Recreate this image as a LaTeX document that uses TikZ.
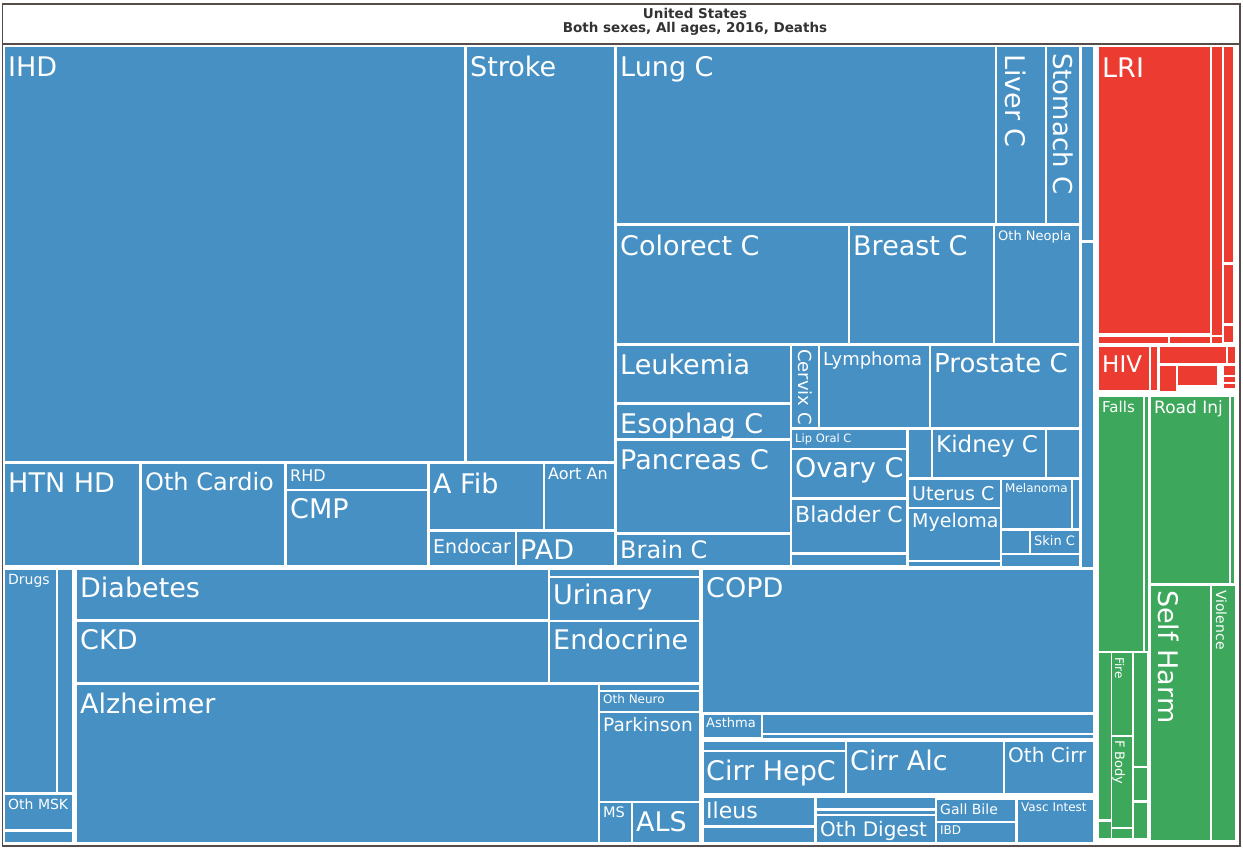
\documentclass[tikz,border=0pt]{standalone}
\usepackage{fontspec}
\setmainfont{DejaVu Sans}
\definecolor{ncdblue}{RGB}{70,144,196}
\definecolor{comred}{RGB}{236,60,50}
\definecolor{injgreen}{RGB}{61,168,92}
\definecolor{framegray}{RGB}{85,75,72}
\definecolor{titlegray}{RGB}{51,51,51}

\begin{document}
\begin{tikzpicture}[
    x = 1pt,
    y = -1pt,
    ncd/.style = {fill = ncdblue},
    com/.style = {fill = comred},
    inj/.style = {fill = injgreen},
    frame/.style = {draw = framegray, line width = 1.5pt},
    lbl/.style = {anchor = base west, inner sep = 0pt, text = white},
    vlbl/.style = {lbl, rotate = -90},
    fs/.style = {font = \fontsize{#1}{#1}\selectfont},
    heading/.style = {inner sep = 0pt, text = titlegray, font = \bfseries\fontsize{13.5}{13.5}\selectfont}
  ]
    \fill[white] (0,0) rectangle (1243,849);
    \useasboundingbox (0,0) rectangle (1243,849);

    \node[heading] (title_country) at (695,13) {United States};
    \node[heading] (title_measure) at (695,29) {Both sexes, All ages, 2016, Deaths};

    % cardiovascular
    \fill[ncd] (5,47) rectangle (464,461);
    \fill[ncd] (467,47) rectangle (614,461);
    \fill[ncd] (5,464) rectangle (139,565);
    \fill[ncd] (142,464) rectangle (284,565);
    \fill[ncd] (287,464) rectangle (427,489);
    \fill[ncd] (287,491) rectangle (427,565);
    \fill[ncd] (430,464) rectangle (543,529);
    \fill[ncd] (545,464) rectangle (614,529);
    \fill[ncd] (430,532) rectangle (515,565);
    \fill[ncd] (517,532) rectangle (614,565);
    \node[lbl, fs=27] (ihd) at (8,76) {IHD};
    \node[lbl, fs=27] (stroke) at (470,76) {Stroke};
    \node[lbl, fs=27] (htn_hd) at (8,492) {HTN HD};
    \node[lbl, fs=24] (oth_cardio) at (145,490) {Oth Cardio};
    \node[lbl, fs=16] (rhd) at (290,481) {RHD};
    \node[lbl, fs=27] (cmp) at (290,518) {CMP};
    \node[lbl, fs=27] (a_fib) at (433,493) {A Fib};
    \node[lbl, fs=16] (aort_an) at (548,479) {Aort An};
    \node[lbl, fs=19] (endocar) at (433,553) {Endocar};
    \node[lbl, fs=27] (pad) at (520,559) {PAD};

    % neoplasms
    \fill[ncd] (617,47) rectangle (995,223);
    \fill[ncd] (997,47) rectangle (1045,223);
    \fill[ncd] (1047,47) rectangle (1079,223);
    \fill[ncd] (617,226) rectangle (848,343);
    \fill[ncd] (850,226) rectangle (993,343);
    \fill[ncd] (995,226) rectangle (1079,343);
    \fill[ncd] (617,346) rectangle (790,402);
    \fill[ncd] (617,405) rectangle (790,438);
    \fill[ncd] (617,441) rectangle (790,532);
    \fill[ncd] (617,535) rectangle (790,565);
    \fill[ncd] (792,346) rectangle (818,427);
    \fill[ncd] (820,346) rectangle (929,427);
    \fill[ncd] (931,346) rectangle (1079,427);
    \fill[ncd] (792,430) rectangle (906,448);
    \fill[ncd] (792,450) rectangle (906,497);
    \fill[ncd] (792,500) rectangle (906,552);
    \fill[ncd] (792,555) rectangle (906,565);
    \fill[ncd] (909,430) rectangle (931,477);
    \fill[ncd] (933,430) rectangle (1045,477);
    \fill[ncd] (1047,430) rectangle (1079,477);
    \fill[ncd] (909,480) rectangle (1000,507);
    \fill[ncd] (909,509) rectangle (1000,560);
    \fill[ncd] (909,562) rectangle (1000,566);
    \fill[ncd] (1002,480) rectangle (1071,528);
    \fill[ncd] (1073,480) rectangle (1079,528);
    \fill[ncd] (1002,531) rectangle (1029,553);
    \fill[ncd] (1031,531) rectangle (1079,553);
    \fill[ncd] (1002,555) rectangle (1079,566);
    \fill[ncd] (1082,47) rectangle (1093,240);
    \fill[ncd] (1082,243) rectangle (1093,567);
    \node[lbl, fs=27] (lung_c) at (620,76) {Lung C};
    \node[vlbl, fs=27] (liver_c) at (1005,54) {Liver C};
    \node[vlbl, fs=26] (stomach_c) at (1053,53) {Stomach C};
    \node[lbl, fs=27] (colorect_c) at (620,255) {Colorect C};
    \node[lbl, fs=27] (breast_c) at (853,255) {Breast C};
    \node[lbl, fs=13] (oth_neopla) at (998,240) {Oth Neopla};
    \node[lbl, fs=27] (leukemia) at (620,374) {Leukemia};
    \node[lbl, fs=27] (esophag_c) at (620,433) {Esophag C};
    \node[lbl, fs=27] (pancreas_c) at (620,469) {Pancreas C};
    \node[lbl, fs=24] (brain_c) at (620,558) {Brain C};
    \node[vlbl, fs=18] (cervix_c) at (798,349) {Cervix C};
    \node[lbl, fs=18] (lymphoma) at (823,365) {Lymphoma};
    \node[lbl, fs=26] (prostate_c) at (934,372) {Prostate C};
    \node[lbl, fs=11.5] (lip_oral_c) at (795,442) {Lip Oral C};
    \node[lbl, fs=27] (ovary_c) at (795,477) {Ovary C};
    \node[lbl, fs=22] (bladder_c) at (795,522) {Bladder C};
    \node[lbl, fs=23] (kidney_c) at (936,452) {Kidney C};
    \node[lbl, fs=19] (uterus_c) at (912,500) {Uterus C};
    \node[lbl, fs=19] (myeloma) at (912,527) {Myeloma};
    \node[lbl, fs=12] (melanoma) at (1005,492) {Melanoma};
    \node[lbl, fs=13] (skin_c) at (1034,545) {Skin C};

    % other non-communicable
    \fill[ncd] (5,570) rectangle (56,792);
    \fill[ncd] (58,570) rectangle (72,792);
    \fill[ncd] (5,795) rectangle (72,829);
    \fill[ncd] (5,832) rectangle (72,842);
    \fill[ncd] (77,570) rectangle (548,619);
    \fill[ncd] (550,570) rectangle (699,576);
    \fill[ncd] (550,578) rectangle (699,620);
    \fill[ncd] (77,622) rectangle (548,682);
    \fill[ncd] (550,622) rectangle (699,682);
    \fill[ncd] (77,685) rectangle (598,842);
    \fill[ncd] (600,685) rectangle (699,690);
    \fill[ncd] (600,692) rectangle (699,711);
    \fill[ncd] (600,713) rectangle (699,801);
    \fill[ncd] (600,803) rectangle (631,842);
    \fill[ncd] (633,803) rectangle (699,842);
    \fill[ncd] (703,570) rectangle (1093,712);
    \fill[ncd] (704,715) rectangle (761,737);
    \fill[ncd] (763,715) rectangle (1093,733);
    \fill[ncd] (763,735) rectangle (1093,738);
    \fill[ncd] (704,742) rectangle (845,750);
    \fill[ncd] (704,752) rectangle (845,793);
    \fill[ncd] (847,742) rectangle (1003,793);
    \fill[ncd] (1005,742) rectangle (1093,793);
    \fill[ncd] (704,798) rectangle (814,825);
    \fill[ncd] (704,828) rectangle (814,842);
    \fill[ncd] (817,798) rectangle (935,808);
    \fill[ncd] (817,811) rectangle (935,814);
    \fill[ncd] (817,816) rectangle (935,842);
    \fill[ncd] (937,800) rectangle (1015,821);
    \fill[ncd] (937,823) rectangle (1015,842);
    \fill[ncd] (1018,800) rectangle (1093,842);
    \node[lbl, fs=14] (drugs) at (8,584) {Drugs};
    \node[lbl, fs=14] (oth_msk) at (8,809) {Oth MSK};
    \node[lbl, fs=27] (diabetes) at (80,597) {Diabetes};
    \node[lbl, fs=27] (urinary) at (553,604) {Urinary};
    \node[lbl, fs=27] (ckd) at (80,649) {CKD};
    \node[lbl, fs=27] (endocrine) at (553,649) {Endocrine};
    \node[lbl, fs=27] (alzheimer) at (80,713) {Alzheimer};
    \node[lbl, fs=12] (oth_neuro) at (603,703) {Oth Neuro};
    \node[lbl, fs=18.5] (parkinson) at (603,731) {Parkinson};
    \node[lbl, fs=14.5] (ms) at (603,817) {MS};
    \node[lbl, fs=27] (als) at (636,831) {ALS};
    \node[lbl, fs=27] (copd) at (706,597) {COPD};
    \node[lbl, fs=13] (asthma) at (706,727) {Asthma};
    \node[lbl, fs=27] (cirr_hepc) at (706,780) {Cirr HepC};
    \node[lbl, fs=27] (cirr_alc) at (850,770) {Cirr Alc};
    \node[lbl, fs=20] (oth_cirr) at (1008,762) {Oth Cirr};
    \node[lbl, fs=22] (ileus) at (706,818) {Ileus};
    \node[lbl, fs=20] (oth_digest) at (820,836) {Oth Digest};
    \node[lbl, fs=14] (gall_bile) at (940,814) {Gall Bile};
    \node[lbl, fs=12] (ibd) at (940,834) {IBD};
    \node[lbl, fs=12] (vasc_intest) at (1021,811) {Vasc Intest};

    % communicable
    \fill[com] (1099,47) rectangle (1210,333);
    \fill[com] (1212,47) rectangle (1222,335);
    \fill[com] (1224,47) rectangle (1233,262);
    \fill[com] (1224,265) rectangle (1233,323);
    \fill[com] (1224,326) rectangle (1233,342);
    \fill[com] (1099,337) rectangle (1168,343);
    \fill[com] (1170,337) rectangle (1210,343);
    \fill[com] (1212,337) rectangle (1222,343);
    \fill[com] (1099,347) rectangle (1149,390);
    \fill[com] (1151,347) rectangle (1157,390);
    \fill[com] (1160,347) rectangle (1226,363);
    \fill[com] (1228,347) rectangle (1235,363);
    \fill[com] (1160,366) rectangle (1176,391);
    \fill[com] (1178,366) rectangle (1217,385);
    \fill[com] (1224,366) rectangle (1235,375);
    \fill[com] (1224,377) rectangle (1235,382);
    \fill[com] (1224,384) rectangle (1235,388);
    \node[lbl, fs=27] (lri) at (1102,77) {LRI};
    \node[lbl, fs=23] (hiv) at (1102,372) {HIV};

    % injuries
    \fill[inj] (1099,397) rectangle (1143,651);
    \fill[inj] (1145,397) rectangle (1148,651);
    \fill[inj] (1151,397) rectangle (1229,583);
    \fill[inj] (1231,397) rectangle (1234,583);
    \fill[inj] (1151,586) rectangle (1210,840);
    \fill[inj] (1212,586) rectangle (1235,840);
    \fill[inj] (1099,653) rectangle (1111,819);
    \fill[inj] (1099,822) rectangle (1111,838);
    \fill[inj] (1112,653) rectangle (1132,735);
    \fill[inj] (1112,737) rectangle (1132,827);
    \fill[inj] (1112,829) rectangle (1132,838);
    \fill[inj] (1134,653) rectangle (1147,766);
    \fill[inj] (1134,768) rectangle (1147,800);
    \fill[inj] (1134,803) rectangle (1147,838);
    \node[lbl, fs=15] (falls) at (1102,412) {Falls};
    \node[lbl, fs=17] (road_inj) at (1154,413) {Road Inj};
    \node[vlbl, fs=27] (self_harm) at (1158,590) {Self Harm};
    \node[vlbl, fs=14] (violence) at (1216,590) {Violence};
    \node[vlbl, fs=12] (fire) at (1115,657) {Fire};
    \node[vlbl, fs=13] (f_body) at (1115,740) {F Body};

    \draw[frame] (2.5,4) rectangle (1240,44);
    \draw[frame] (2.5,44) rectangle (1240,846);
  \end{tikzpicture}
\end{document}
